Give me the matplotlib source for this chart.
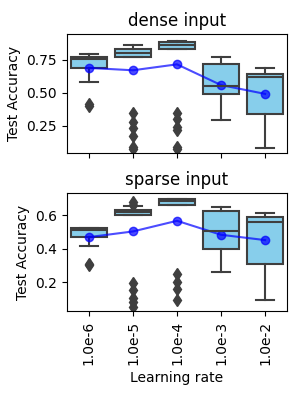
# Test accuracy vs learning rate, dense and sparse input
import matplotlib
matplotlib.use('Agg')
import matplotlib.pyplot as plt

lr_labels = ['1.0e-6', '1.0e-5', '1.0e-4', '1.0e-3', '1.0e-2']

# dense input box stats
dense_whislo = [0.58, 0.775, 0.833, 0.293, 0.085]
dense_q1 = [0.692, 0.775, 0.833, 0.495, 0.343]
dense_med = [0.758, 0.805, 0.864, 0.555, 0.621]
dense_q3 = [0.775, 0.836, 0.886, 0.722, 0.646]
dense_whishi = [0.793, 0.866, 0.894, 0.775, 0.692]
dense_fliers = [[0.40, 0.415],
                [0.346, 0.283, 0.232, 0.174, 0.088, 0.075],
                [0.346, 0.30, 0.245, 0.22, 0.088, 0.075],
                [], []]
dense_mean = [0.69, 0.672, 0.717, 0.56, 0.493]

# sparse input box stats
sparse_whislo = [0.419, 0.604, 0.664, 0.263, 0.094]
sparse_q1 = [0.472, 0.604, 0.664, 0.401, 0.311]
sparse_med = [0.51, 0.618, 0.684, 0.504, 0.56]
sparse_q3 = [0.524, 0.632, 0.699, 0.624, 0.592]
sparse_whishi = [0.524, 0.654, 0.699, 0.648, 0.616]
sparse_fliers = [[0.309, 0.30],
                 [0.665, 0.68, 0.193, 0.153, 0.103, 0.082, 0.052],
                 [0.247, 0.203, 0.159, 0.093],
                 [], []]
sparse_mean = [0.47, 0.504, 0.568, 0.484, 0.452]

edge = '#3f3f3f'


def draw(ax, lo, q1, med, q3, hi, fl, mean, title):
    stats = []
    for i in range(len(lr_labels)):
        stats.append({'whislo': lo[i], 'q1': q1[i], 'med': med[i], 'q3': q3[i],
                      'whishi': hi[i], 'fliers': fl[i]})
    pos = list(range(len(lr_labels)))
    ax.bxp(stats, positions=pos, widths=0.8, capwidths=0.4, patch_artist=True,
           boxprops=dict(facecolor='#87ceeb', edgecolor=edge, linewidth=1.5),
           medianprops=dict(color=edge, linewidth=1.5),
           whiskerprops=dict(color=edge, linewidth=1.5),
           capprops=dict(color=edge, linewidth=1.5),
           flierprops=dict(marker='d', markerfacecolor=edge, markeredgecolor=edge,
                           markersize=6))
    ax.plot(pos, mean, 'o-', color='blue', alpha=0.7, markersize=6, linewidth=1.5)
    ax.set_title(title, fontsize=12)
    ax.set_ylabel('Test Accuracy', fontsize=10)
    ax.set_xlim(-0.5, 4.5)


fig = plt.figure(figsize=(3, 4), dpi=100)
ax1 = fig.add_axes([0.223, 0.6175, 0.734, 0.2975])
ax2 = fig.add_axes([0.223, 0.2225, 0.734, 0.295])

draw(ax1, dense_whislo, dense_q1, dense_med, dense_q3, dense_whishi,
     dense_fliers, dense_mean, 'dense input')
ax1.set_ylim(0.045, 0.947)
ax1.set_yticks([0.25, 0.5, 0.75])
ax1.set_yticklabels(['0.25', '0.50', '0.75'])
ax1.set_xticks(range(5))
ax1.set_xticklabels([])

draw(ax2, sparse_whislo, sparse_q1, sparse_med, sparse_q3, sparse_whishi,
     sparse_fliers, sparse_mean, 'sparse input')
ax2.set_ylim(0.026, 0.735)
ax2.set_yticks([0.2, 0.4, 0.6])
ax2.set_xticks(range(5))
ax2.set_xticklabels(lr_labels, rotation=90)
ax2.set_xlabel('Learning rate', fontsize=10)

plt.savefig('out.png')
